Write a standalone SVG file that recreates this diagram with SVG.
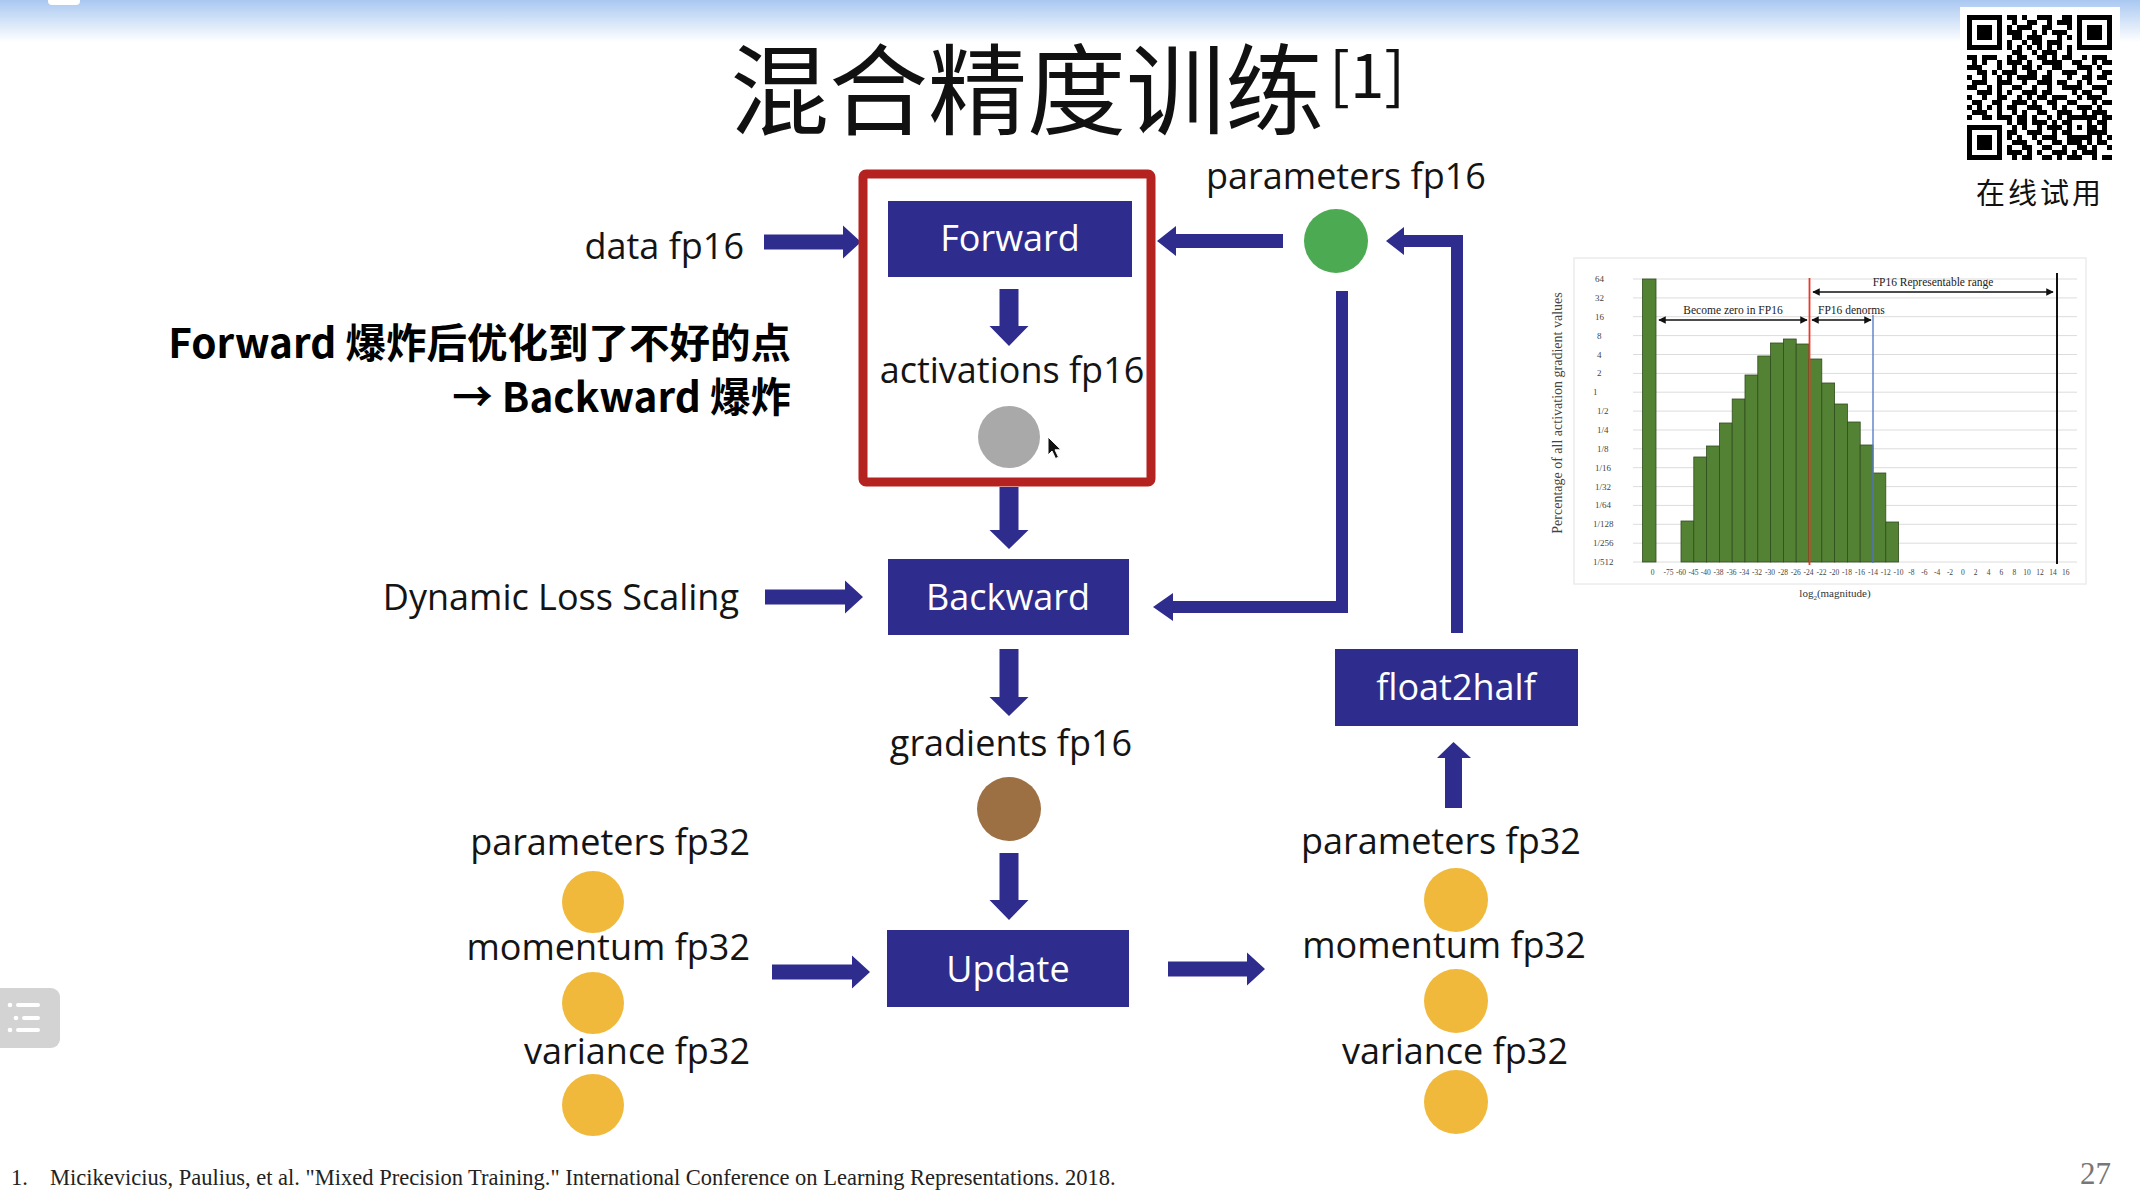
<svg xmlns="http://www.w3.org/2000/svg" width="2140" height="1194" viewBox="0 0 2140 1194">
  <defs>
    <linearGradient id="hdr" x1="0" y1="0" x2="0" y2="1">
      <stop offset="0" stop-color="#a9c8f1"/>
      <stop offset="1" stop-color="#ffffff"/>
    </linearGradient>
    <marker id="tip" viewBox="0 0 10 10" refX="9" refY="5" markerWidth="5" markerHeight="5" orient="auto-start-reverse">
      <path d="M0 0 L10 5 L0 10 Z" fill="#111"/>
    </marker>
    <style>
      .box { fill:#2e2d8e; }
      .bt { font-family:"Open Sans","Noto Sans",sans-serif; font-size:36px; fill:#ffffff; text-anchor:middle; }
      .lb { font-family:"Open Sans","Noto Sans",sans-serif; font-size:36px; fill:#141414; }
      .arr { fill:#2e2d8e; }
      .ln { fill:none; stroke:#2e2d8e; stroke-width:12; }
      .yel { fill:#f0b93b; }
      .grid { stroke:#dcdcdc; stroke-width:1; }
      .bar { fill:#548235; stroke:#2f4d1c; stroke-width:0.8; }
      .yt { font-family:"Liberation Serif",serif; font-size:9px; fill:#444; }
      .xt { font-family:"Liberation Serif",serif; font-size:7.5px; fill:#444; text-anchor:middle; }
      .cap { font-family:"Liberation Serif",serif; font-size:11.5px; fill:#222; }
      .note { font-family:"Noto Sans CJK SC",sans-serif; font-weight:bold; font-size:40.5px; fill:#000; text-anchor:end; }
    </style>
  </defs>

  <!-- page background and header band -->
  <rect width="2140" height="1194" fill="#ffffff"/>
  <rect width="2140" height="42" fill="url(#hdr)"/>
  <rect x="48" y="-10" width="32" height="15" rx="4" fill="#ffffff"/>

  <!-- title -->
  <g id="title">
    <text x="730" y="127" font-family="'Noto Sans CJK SC',sans-serif" font-size="99" fill="#111">混合精度训练</text>
    <text x="1329" y="98" font-family="'Noto Sans CJK SC',sans-serif" font-size="62" fill="#111">[1]</text>
  </g>

  <!-- QR code -->
  <g id="qr">
    <rect x="1960" y="7" width="160" height="160" fill="#ffffff"/>
    <g transform="translate(1967,15) scale(5)" shape-rendering="crispEdges">
      <path fill="#000" fill-rule="evenodd" d="M0 0h7v7h-7z M1 1v5h5v-5z M2 2h3v3h-3z M22 0h7v7h-7z M23 1v5h5v-5z M24 2h3v3h-3z M0 22h7v7h-7z M1 23v5h5v-5z M2 24h3v3h-3z M20 20h5v5h-5z M21 21v3h3v-3z M22 22h1v1h-1z"/>
      <path fill="none" stroke="#000" stroke-width="1" d="M8 .5h2M11 .5h1M14 .5h3M19 .5h2 M9 1.5h1M12 1.5h2M16 1.5h1M18 1.5h3 M8 2.5h1M10 2.5h3M15 2.5h2M20 2.5h1 M8 3.5h3M13 3.5h1M15 3.5h1M17 3.5h3 M9 4.5h2M12 4.5h3M18 4.5h1M20 4.5h1 M8 5.5h1M11 5.5h1M13 5.5h2M16 5.5h3 M8 6.5h1M10 6.5h1M12 6.5h1M14 6.5h1M16 6.5h1M18 6.5h1M20 6.5h1 M9 7.5h2M13 7.5h1M15 7.5h3M20 7.5h1 M0 8.5h2M3 8.5h3M8 8.5h1M10 8.5h2M14 8.5h2M17 8.5h1M19 8.5h2M23 8.5h1M25 8.5h3 M1 9.5h1M3 9.5h1M6 9.5h1M8 9.5h3M12 9.5h1M15 9.5h4M21 9.5h2M25 9.5h1M27 9.5h2 M0 10.5h3M6 10.5h1M9 10.5h1M11 10.5h2M14 10.5h1M17 10.5h2M22 10.5h3M26 10.5h1 M2 11.5h2M5 11.5h1M7 11.5h3M12 11.5h2M16 11.5h1M19 11.5h3M24 11.5h1M27 11.5h2 M0 12.5h1M3 12.5h1M6 12.5h1M8 12.5h1M10 12.5h4M15 12.5h2M20 12.5h1M23 12.5h2M26 12.5h2 M1 13.5h3M6 13.5h3M11 13.5h1M14 13.5h3M18 13.5h2M22 13.5h1M24 13.5h1M28 13.5h1 M0 14.5h2M4 14.5h1M6 14.5h1M9 14.5h2M13 14.5h1M16 14.5h1M19 14.5h4M25 14.5h3 M2 15.5h3M6 15.5h1M8 15.5h1M11 15.5h3M15 15.5h2M21 15.5h1M23 15.5h2M27 15.5h1 M0 16.5h1M3 16.5h1M6 16.5h2M10 16.5h1M12 16.5h1M14 16.5h2M17 16.5h3M22 16.5h1M24 16.5h3 M1 17.5h2M5 17.5h2M9 17.5h3M13 17.5h1M16 17.5h2M20 17.5h2M25 17.5h1M27 17.5h2 M0 18.5h1M2 18.5h1M4 18.5h1M6 18.5h1M8 18.5h2M12 18.5h3M17 18.5h1M19 18.5h1M22 18.5h3M26 18.5h1 M1 19.5h3M6 19.5h1M9 19.5h1M11 19.5h1M14 19.5h2M18 19.5h3M23 19.5h1M25 19.5h3 M0 20.5h1M3 20.5h2M6 20.5h3M10 20.5h2M13 20.5h1M16 20.5h1M18 20.5h1M25 20.5h1M27 20.5h2 M8 21.5h1M10 21.5h2M13 21.5h3M17 21.5h1M19 21.5h1M26 21.5h2 M9 22.5h1M11 22.5h1M14 22.5h1M16 22.5h3M25 22.5h1M27 22.5h1 M8 23.5h2M12 23.5h3M17 23.5h1M19 23.5h1M25 23.5h3 M8 24.5h1M10 24.5h1M13 24.5h1M15 24.5h3M26 24.5h1M28 24.5h1 M9 25.5h3M14 25.5h1M17 25.5h2M20 25.5h3M24 25.5h1M26 25.5h2 M8 26.5h1M11 26.5h2M15 26.5h2M19 26.5h1M22 26.5h2M25 26.5h1M28 26.5h1 M8 27.5h3M12 27.5h1M14 27.5h1M17 27.5h3M21 27.5h1M23 27.5h3 M9 28.5h1M11 28.5h2M15 28.5h2M18 28.5h1M20 28.5h3M25 28.5h1M27 28.5h2"/>
    </g>
    <text x="2040" y="204" text-anchor="middle" font-family="'Noto Sans CJK SC',sans-serif" font-size="29" letter-spacing="3" fill="#111">在线试用</text>
  </g>

  <!-- side note, two lines -->
  <g id="note">
    <text class="note" x="791" y="358">Forward 爆炸后优化到了不好的点</text>
    <text class="note" x="791" y="412">→ Backward 爆炸</text>
  </g>

  <!-- connectors -->
  <g id="connectors">
    <!-- data fp16 -> Forward -->
    <path class="arr" d="M764 234.5 H843 V225.5 L861 242 L843 258.5 V249.5 H764 Z"/>
    <!-- parameters fp16 -> Forward -->
    <path class="arr" d="M1283 234 H1176 V226 L1157 241 L1176 256 V248 H1283 Z"/>
    <!-- Forward -> activations -->
    <path class="arr" d="M999.5 289 H1018.5 V326 H1028.5 L1009 346 L989.5 326 H999.5 Z"/>
    <!-- forward block -> Backward -->
    <path class="arr" d="M999.5 487 H1018.5 V530 H1028.5 L1009 549 L989.5 530 H999.5 Z"/>
    <!-- Dynamic Loss Scaling -> Backward -->
    <path class="arr" d="M765 589.5 H845 V580.5 L863 597 L845 613.5 V604.5 H765 Z"/>
    <!-- parameters fp16 -> Backward -->
    <path class="ln" d="M1342 291 V607 H1172"/>
    <path class="arr" d="M1173 593 L1153 607 L1173 621 Z"/>
    <!-- Backward -> gradients -->
    <path class="arr" d="M999.5 649 H1018.5 V697 H1028.5 L1009 716 L989.5 697 H999.5 Z"/>
    <!-- gradients -> Update -->
    <path class="arr" d="M999.5 853 H1018.5 V900 H1028.5 L1009 920 L989.5 900 H999.5 Z"/>
    <!-- fp32 state -> Update -->
    <path class="arr" d="M772 964.5 H852 V955.5 L870 972 L852 988.5 V979.5 H772 Z"/>
    <!-- Update -> fp32 state -->
    <path class="arr" d="M1168 961.5 H1247 V952.5 L1265 969 L1247 985.5 V976.5 H1168 Z"/>
    <!-- parameters fp32 -> float2half -->
    <path class="arr" d="M1445 808 V758 H1437 L1453.5 742 L1471 758 H1462 V808 Z"/>
    <!-- float2half -> parameters fp16 -->
    <path class="ln" d="M1457 633 V241 H1403"/>
    <path class="arr" d="M1404 227 L1386 241 L1404 255 Z"/>
  </g>

  <!-- nodes -->
  <g id="data-fp16"><text class="lb" x="744" y="259" text-anchor="end">data fp16</text></g>

  <g id="forward-block">
    <rect x="863" y="174" width="288" height="308" rx="3" fill="none" stroke="#b42320" stroke-width="9"/>
  </g>

  <g id="forward">
    <rect class="box" x="888" y="201" width="244" height="76"/>
    <text class="bt" x="1010" y="251">Forward</text>
  </g>

  <g id="activations-fp16">
    <text class="lb" x="1012" y="383" text-anchor="middle">activations fp16</text>
    <circle cx="1009" cy="437" r="31" fill="#a9a9a9"/>
  </g>

  <g id="pointer">
    <path d="M1048 437 L1048 455 L1052 451 L1055.5 458.5 L1058.5 457.2 L1055 449.8 L1061 449.8 Z" fill="#111" stroke="#fff" stroke-width="1"/>
  </g>

  <g id="parameters-fp16">
    <text class="lb" x="1346" y="189" text-anchor="middle">parameters fp16</text>
    <circle cx="1336" cy="241" r="32" fill="#4caa52"/>
  </g>

  <g id="dynamic-loss-scaling"><text class="lb" x="739" y="610" text-anchor="end">Dynamic Loss Scaling</text></g>

  <g id="backward">
    <rect class="box" x="888" y="559" width="241" height="76"/>
    <text class="bt" x="1008" y="610">Backward</text>
  </g>

  <g id="gradients-fp16">
    <text class="lb" x="1011" y="756" text-anchor="middle">gradients fp16</text>
    <circle cx="1009" cy="809" r="32" fill="#9d7044"/>
  </g>

  <g id="fp32-in">
    <text class="lb" x="750" y="855" text-anchor="end">parameters fp32</text>
    <circle class="yel" cx="593" cy="902" r="31"/>
    <text class="lb" x="750" y="960" text-anchor="end">momentum fp32</text>
    <circle class="yel" cx="593" cy="1003" r="31"/>
    <text class="lb" x="750" y="1064" text-anchor="end">variance fp32</text>
    <circle class="yel" cx="593" cy="1105" r="31"/>
  </g>

  <g id="update">
    <rect class="box" x="887" y="930" width="242" height="77"/>
    <text class="bt" x="1008" y="982">Update</text>
  </g>

  <g id="fp32-out">
    <text class="lb" x="1441" y="854" text-anchor="middle">parameters fp32</text>
    <circle class="yel" cx="1456" cy="900" r="32"/>
    <text class="lb" x="1444" y="958" text-anchor="middle">momentum fp32</text>
    <circle class="yel" cx="1456" cy="1001" r="32"/>
    <text class="lb" x="1455" y="1064" text-anchor="middle">variance fp32</text>
    <circle class="yel" cx="1456" cy="1102" r="32"/>
  </g>

  <g id="float2half">
    <rect class="box" x="1335" y="649" width="243" height="77"/>
    <text class="bt" x="1456" y="700">float2half</text>
  </g>

  <!-- histogram of activation gradient magnitudes -->
  <g id="histogram">
    <rect x="1574" y="258" width="512" height="326" fill="#ffffff" stroke="#ececec" stroke-width="1.5"/>
    <g class="grid">
      <line x1="1633" y1="279" x2="2077" y2="279"/>
      <line x1="1633" y1="297.9" x2="2077" y2="297.9"/>
      <line x1="1633" y1="316.7" x2="2077" y2="316.7"/>
      <line x1="1633" y1="335.6" x2="2077" y2="335.6"/>
      <line x1="1633" y1="354.5" x2="2077" y2="354.5"/>
      <line x1="1633" y1="373.4" x2="2077" y2="373.4"/>
      <line x1="1633" y1="392.2" x2="2077" y2="392.2"/>
      <line x1="1633" y1="411.1" x2="2077" y2="411.1"/>
      <line x1="1633" y1="430" x2="2077" y2="430"/>
      <line x1="1633" y1="448.8" x2="2077" y2="448.8"/>
      <line x1="1633" y1="467.7" x2="2077" y2="467.7"/>
      <line x1="1633" y1="486.6" x2="2077" y2="486.6"/>
      <line x1="1633" y1="505.4" x2="2077" y2="505.4"/>
      <line x1="1633" y1="524.3" x2="2077" y2="524.3"/>
      <line x1="1633" y1="543.2" x2="2077" y2="543.2"/>
      <line x1="1633" y1="562" x2="2077" y2="562"/>
    </g>
    <g class="yt">
      <text x="1595" y="282">64</text>
      <text x="1595" y="300.9">32</text>
      <text x="1595" y="319.7">16</text>
      <text x="1597" y="338.6">8</text>
      <text x="1597" y="357.5">4</text>
      <text x="1597" y="376.4">2</text>
      <text x="1593" y="395.2">1</text>
      <text x="1597" y="414.1">1/2</text>
      <text x="1597" y="433">1/4</text>
      <text x="1597" y="451.8">1/8</text>
      <text x="1595" y="470.7">1/16</text>
      <text x="1595" y="489.6">1/32</text>
      <text x="1595" y="508.4">1/64</text>
      <text x="1593" y="527.3">1/128</text>
      <text x="1593" y="546.2">1/256</text>
      <text x="1593" y="565">1/512</text>
    </g>
    <text x="1562" y="413" transform="rotate(-90 1562 413)" text-anchor="middle" font-family="'Liberation Serif',serif" font-size="14" fill="#444">Percentage of all activation gradient values</text>
    <g>
      <rect class="bar" x="1642.5" y="279" width="13.5" height="283"/>
      <rect class="bar" x="1681" y="521" width="12.8" height="41"/>
      <rect class="bar" x="1693.8" y="457" width="12.8" height="105"/>
      <rect class="bar" x="1706.6" y="446" width="12.8" height="116"/>
      <rect class="bar" x="1719.4" y="423" width="12.8" height="139"/>
      <rect class="bar" x="1732.2" y="399" width="12.8" height="163"/>
      <rect class="bar" x="1745" y="375" width="12.8" height="187"/>
      <rect class="bar" x="1757.8" y="356" width="12.8" height="206"/>
      <rect class="bar" x="1770.6" y="343" width="12.8" height="219"/>
      <rect class="bar" x="1783.4" y="339" width="12.8" height="223"/>
      <rect class="bar" x="1796.2" y="344" width="12.8" height="218"/>
      <rect class="bar" x="1809" y="359" width="12.8" height="203"/>
      <rect class="bar" x="1821.8" y="383" width="12.8" height="179"/>
      <rect class="bar" x="1834.6" y="404" width="12.8" height="158"/>
      <rect class="bar" x="1847.4" y="422" width="12.8" height="140"/>
      <rect class="bar" x="1860.2" y="445" width="12.8" height="117"/>
      <rect class="bar" x="1873" y="473" width="12.8" height="89"/>
      <rect class="bar" x="1885.8" y="522" width="12.8" height="40"/>
    </g>
    <line x1="1809.5" y1="278" x2="1809.5" y2="565" stroke="#e8392a" stroke-width="1.8"/>
    <line x1="1873" y1="315" x2="1873" y2="563" stroke="#5b7fc8" stroke-width="1.4"/>
    <line x1="2057" y1="273" x2="2057" y2="564" stroke="#111" stroke-width="2"/>
    <g stroke="#111" stroke-width="1.5" fill="none">
      <line x1="1813" y1="292" x2="2053" y2="292" marker-start="url(#tip)" marker-end="url(#tip)"/>
      <line x1="1659" y1="320" x2="1807" y2="320" marker-start="url(#tip)" marker-end="url(#tip)"/>
      <line x1="1812" y1="320" x2="1871" y2="320" marker-start="url(#tip)" marker-end="url(#tip)"/>
    </g>
    <text class="cap" x="1933" y="286" text-anchor="middle">FP16 Representable range</text>
    <text class="cap" x="1733" y="314" text-anchor="middle">Become zero in FP16</text>
    <text class="cap" x="1818" y="314">FP16 denorms</text>
    <g class="xt">
      <text x="1652.5" y="575">0</text>
      <text x="1668.6" y="575">-75</text>
      <text x="1681" y="575">-60</text>
      <text x="1693.6" y="575">-45</text>
      <text x="1705.7" y="575">-40</text>
      <text x="1718.6" y="575">-38</text>
      <text x="1731.4" y="575">-36</text>
      <text x="1744.3" y="575">-34</text>
      <text x="1757.1" y="575">-32</text>
      <text x="1770" y="575">-30</text>
      <text x="1782.9" y="575">-28</text>
      <text x="1795.7" y="575">-26</text>
      <text x="1808.6" y="575">-24</text>
      <text x="1821.4" y="575">-22</text>
      <text x="1834.3" y="575">-20</text>
      <text x="1847.1" y="575">-18</text>
      <text x="1860" y="575">-16</text>
      <text x="1872.9" y="575">-14</text>
      <text x="1885.7" y="575">-12</text>
      <text x="1898.6" y="575">-10</text>
      <text x="1911.4" y="575">-8</text>
      <text x="1924.3" y="575">-6</text>
      <text x="1937.1" y="575">-4</text>
      <text x="1950" y="575">-2</text>
      <text x="1962.9" y="575">0</text>
      <text x="1975.7" y="575">2</text>
      <text x="1988.6" y="575">4</text>
      <text x="2001.4" y="575">6</text>
      <text x="2014.3" y="575">8</text>
      <text x="2027.1" y="575">10</text>
      <text x="2040" y="575">12</text>
      <text x="2052.9" y="575">14</text>
      <text x="2065.7" y="575">16</text>
    </g>
    <text x="1835" y="597" text-anchor="middle" font-family="'Liberation Serif',serif" font-size="11" fill="#333">log<tspan font-size="7" dy="3">2</tspan><tspan dy="-3">(magnitude)</tspan></text>
  </g>

  <!-- outline menu button -->
  <g id="menu-button">
    <rect x="-12" y="988" width="72" height="60" rx="9" fill="#d3d3d3"/>
    <g fill="#ffffff">
      <circle cx="10" cy="1005" r="2.3"/>
      <circle cx="16" cy="1018" r="2.3"/>
      <circle cx="10" cy="1030" r="2.3"/>
    </g>
    <g stroke="#ffffff" stroke-width="4" stroke-linecap="round">
      <line x1="18" y1="1005" x2="38" y2="1005"/>
      <line x1="24" y1="1018" x2="38" y2="1018"/>
      <line x1="18" y1="1030" x2="38" y2="1030"/>
    </g>
  </g>

  <!-- reference footnote and page number -->
  <g id="footer" font-family="'Liberation Serif',serif" fill="#222">
    <text x="11" y="1185" font-size="22.5">1.</text>
    <text x="50" y="1185" font-size="22.5">Micikevicius, Paulius, et al. "Mixed Precision Training." International Conference on Learning Representations. 2018.</text>
    <text x="2111" y="1184" font-size="31" text-anchor="end" fill="#777">27</text>
  </g>
</svg>
